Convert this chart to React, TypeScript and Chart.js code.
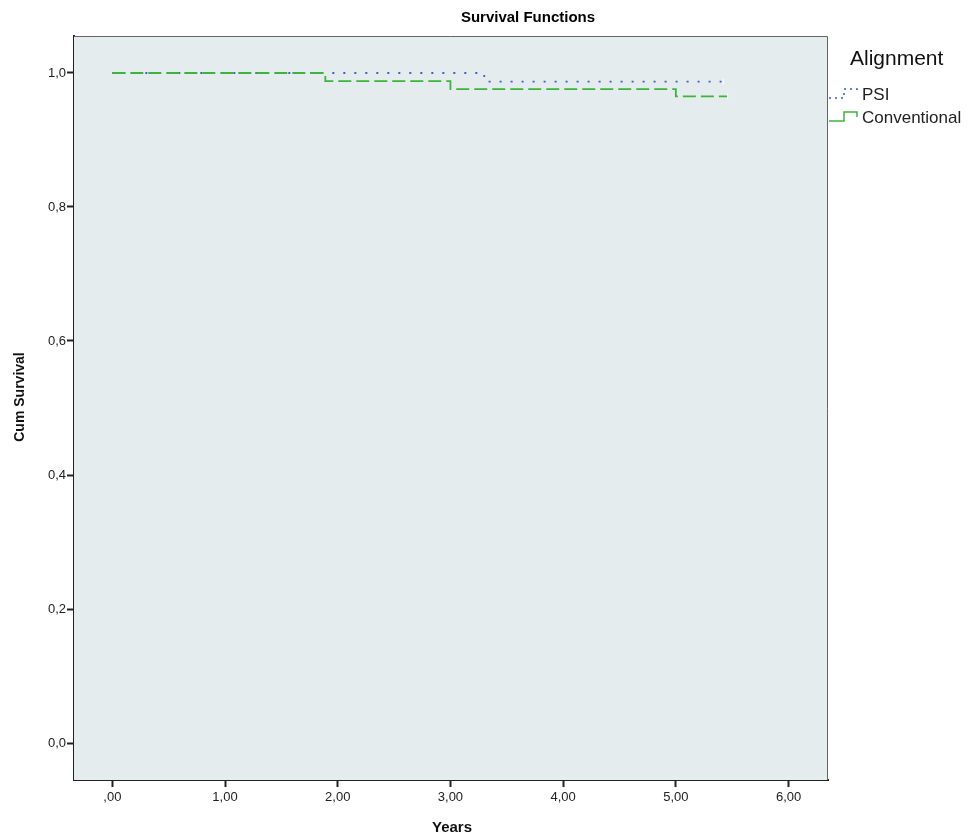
import React, { useEffect, useRef } from "react";
import { Chart, registerables } from "chart.js";

Chart.register(...registerables);

const chartTitle = "Survival Functions";
const xTitle = "Years";
const yTitle = "Cum Survival";
const legendTitle = "Alignment";
const seriesNames = ["PSI", "Conventional"];

const psiX = [0, 3.3, 5.42];
const psiY = [1.0, 0.987, 0.987];
const convX = [0, 1.89, 3.0, 5.0, 5.46];
const convY = [1.0, 0.988, 0.976, 0.965, 0.965];

const xTicks = [0, 1, 2, 3, 4, 5, 6];
const yTicks = [0, 0.2, 0.4, 0.6, 0.8, 1.0];

const FONT = "'Liberation Sans', Arial, sans-serif";
const BLUE = "#3f5fc4";
const GREEN = "#3cb43c";

export default function App() {
  const ref = useRef<HTMLCanvasElement>(null);
  useEffect(() => {
    const canvas = ref.current!;
    const decor = {
      id: "decor",
      beforeDatasetsDraw(chart: any) {
        const { ctx, chartArea: a } = chart;
        ctx.save();
        ctx.fillStyle = "#e4ecee";
        ctx.fillRect(a.left, a.top, a.right - a.left, a.bottom - a.top);
        ctx.strokeStyle = "#666";
        ctx.lineWidth = 1;
        ctx.beginPath();
        ctx.moveTo(a.left, a.top + 0.5);
        ctx.lineTo(a.right - 0.5, a.top + 0.5);
        ctx.lineTo(a.right - 0.5, a.bottom);
        ctx.stroke();
        ctx.restore();
      },
      afterDraw(chart: any) {
        const { ctx, chartArea: a } = chart;
        ctx.save();
        ctx.fillStyle = "#000";
        ctx.textAlign = "center";
        ctx.textBaseline = "middle";
        ctx.font = `bold 15px ${FONT}`;
        ctx.fillText(chartTitle, 528, 18);
        // axis titles
        ctx.fillStyle = "#111";
        ctx.font = `bold 15px ${FONT}`;
        ctx.fillText(xTitle, 452, 828);
        ctx.save();
        ctx.translate(20, 397);
        ctx.rotate(-Math.PI / 2);
        ctx.font = `bold 14px ${FONT}`;
        ctx.fillText(yTitle, 0, 0);
        ctx.restore();
        // legend
        ctx.textAlign = "left";
        ctx.font = `21px ${FONT}`;
        ctx.fillStyle = "#111";
        ctx.fillText(legendTitle, 850, 59);
        ctx.font = `17px ${FONT}`;
        ctx.fillStyle = "#222";
        const items = [
          { y: 95, color: BLUE, dash: [2, 4], name: seriesNames[0] },
          { y: 118, color: GREEN, dash: [], name: seriesNames[1] },
        ];
        items.forEach((it) => {
          ctx.strokeStyle = it.color;
          ctx.lineWidth = 1.5;
          ctx.setLineDash(it.dash);
          ctx.beginPath();
          ctx.moveTo(a.right + 1, it.y + 3);
          ctx.lineTo(a.right + 16, it.y + 3);
          ctx.lineTo(a.right + 16, it.y - 6);
          ctx.lineTo(a.right + 29, it.y - 6);
          ctx.lineTo(a.right + 29, it.y - 1);
          ctx.stroke();
          ctx.setLineDash([]);
          ctx.fillText(it.name, a.right + 34, it.y);
        });
        ctx.restore();
      },
    };
    const endMark = (n: number) => (c: any) => (c.dataIndex === n - 1 ? 3 : 0);
    const chart = new Chart(canvas, {
      type: "scatter",
      data: {
        datasets: [
          {
            label: seriesNames[1],
            data: convX.map((x, i) => ({ x, y: convY[i] })),
            showLine: true,
            stepped: true,
            borderColor: GREEN,
            borderWidth: 1.8,
            borderDash: [13, 5],
            pointRadius: endMark(convX.length),
            pointStyle: "line",
            pointRotation: 90,
            pointBorderColor: "#ffffff",
            pointBorderWidth: 1,
            fill: false,
          },
          {
            label: seriesNames[0],
            data: psiX.map((x, i) => ({ x, y: psiY[i] })),
            showLine: true,
            stepped: true,
            borderColor: BLUE,
            borderWidth: 1.8,
            borderDash: [2, 9],
            pointRadius: endMark(psiX.length),
            pointStyle: "line",
            pointRotation: 90,
            pointBorderColor: "#ffffff",
            pointBorderWidth: 1,
            fill: false,
          },
        ],
      },
      plugins: [decor],
      options: {
        animation: false,
        responsive: false,
        maintainAspectRatio: false,
        layout: { padding: { top: 36, right: 145, left: 0, bottom: 0 } },
        plugins: {
          legend: { display: false },
          title: { display: false },
          tooltip: { enabled: false },
        },
        scales: {
          x: {
            type: "linear",
            min: -0.34,
            max: 6.35,
            afterBuildTicks: (s: any) => {
              s.ticks = xTicks.map((v) => ({ value: v }));
            },
            afterFit: (s: any) => {
              s.height = 57;
            },
            border: { display: true, color: "#222", width: 2 },
            grid: {
              drawOnChartArea: false,
              drawTicks: true,
              tickLength: 7,
              tickColor: "#222",
              tickWidth: 2,
            },
            ticks: {
              padding: 3,
              color: "#222",
              font: { family: FONT, size: 13 },
              callback: (v: any) =>
                v === 0 ? ",00" : Number(v).toFixed(2).replace(".", ","),
            },
          },
          y: {
            type: "linear",
            min: -0.0552,
            max: 1.0552,
            afterBuildTicks: (s: any) => {
              s.ticks = yTicks.map((v) => ({ value: v }));
            },
            afterFit: (s: any) => {
              s.width = 74;
            },
            border: { display: true, color: "#222", width: 2 },
            grid: {
              drawOnChartArea: false,
              drawTicks: true,
              tickLength: 7,
              tickColor: "#222",
              tickWidth: 2,
            },
            ticks: {
              padding: 1,
              color: "#222",
              font: { family: FONT, size: 13 },
              callback: (v: any) => Number(v).toFixed(1).replace(".", ","),
            },
          },
        },
      },
    } as any);
    return () => chart.destroy();
  }, []);
  return (
    <div style={{ position: "absolute", left: 0, top: 0, width: 973, height: 837, background: "#fff" }}>
      <canvas ref={ref} width={973} height={837} style={{ display: "block" }} />
    </div>
  );
}
